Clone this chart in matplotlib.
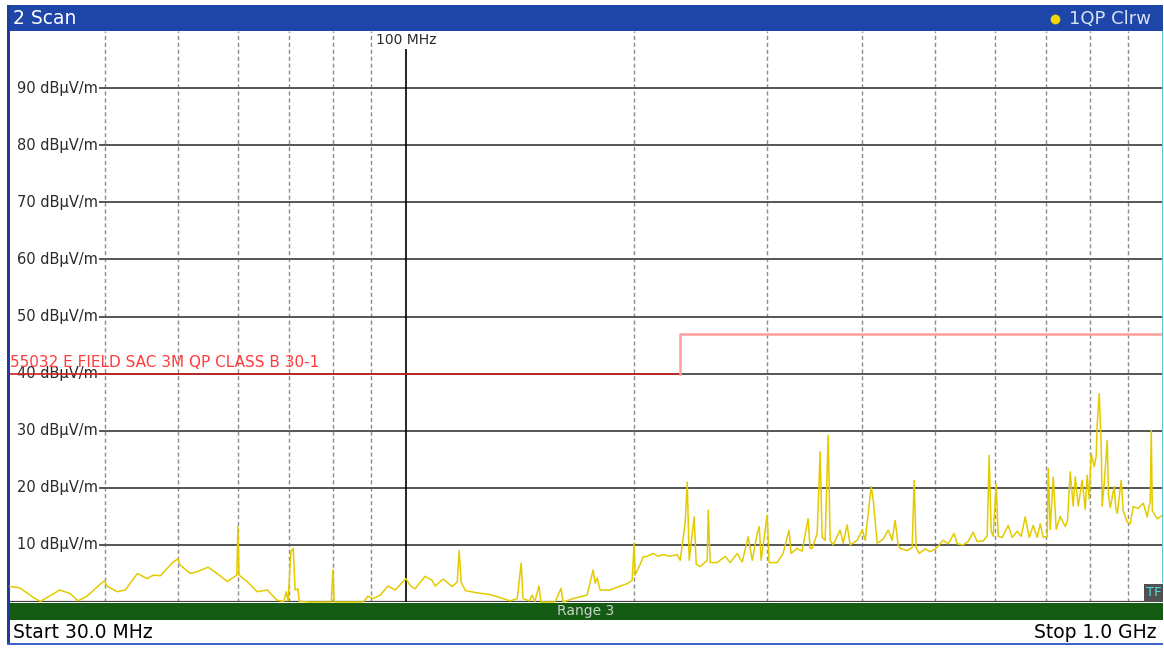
import numpy as np
import matplotlib.pyplot as plt
from matplotlib.patches import Rectangle
import matplotlib.transforms as mtransforms

# trace 1QP Clrw, frequency in MHz, level in dBuV/m
freq = [30.0, 30.9, 32.2, 32.9, 33.6, 34.9, 36.0, 36.9, 37.9, 39.45, 40.0, 40.3,
        41.55, 42.6, 44.2, 45.5, 46.4, 47.4, 49.1, 50.0, 50.3, 51.9, 53.0, 54.8,
        56.3, 58.1, 59.8, 60.0, 60.2, 61.7, 63.6, 65.6, 67.6, 69.0, 69.5, 69.9,
        70.5, 71.0, 71.4, 72.0, 72.3, 74.7, 78.2, 79.7, 80.1, 80.4, 83.1, 85.7,
        87.8, 89.1, 90.5, 92.5, 94.7, 96.8, 100.0, 101.3, 102.8, 106.0, 108.3,
        109.3, 112.0, 115.1, 116.9, 117.6, 118.3, 119.8, 124.2, 129.2, 134.4,
        137.3, 140.3, 142.0, 142.8, 145.5, 146.8, 148.0, 149.9, 150.8, 157.4,
        160.3, 161.3, 166.3, 173.5, 176.7, 177.8, 178.9, 180.5, 186.1, 191.9,
        196.0, 199.0, 200.2, 200.8, 203.3, 205.8, 208.3, 212.1, 215.4, 218.6,
        223.3, 228.2, 230.3, 233.8, 235.3, 236.7, 240.3, 241.8, 244.7, 250.0,
        250.8, 252.3, 257.7, 264.1, 268.1, 273.9, 278.1, 283.2, 286.7, 291.1,
        292.9, 294.6, 300.0, 301.8, 309.3, 314.9, 320.7, 322.7, 328.6, 333.7,
        339.8, 341.9, 344.0, 349.3, 352.5, 354.6, 357.9, 361.2, 363.4, 366.7,
        374.6, 378.1, 382.7, 386.2, 394.5, 400.6, 404.3, 411.7, 414.2, 419.3,
        427.0, 433.5, 438.8, 442.8, 446.9, 449.6, 459.3, 466.3, 469.2, 472.0,
        476.4, 485.1, 492.6, 501.6, 512.4, 520.2, 529.8, 534.7, 544.5, 552.9,
        561.4, 568.2, 578.7, 585.8, 589.4, 593.0, 596.6, 602.1, 605.8, 613.2,
        624.5, 632.1, 641.8, 649.7, 657.6, 665.7, 673.8, 682.1, 688.4, 694.7,
        703.2, 705.3, 709.6, 716.1, 722.7, 731.5, 742.7, 748.0, 754.1, 761.0,
        765.7, 772.7, 782.1, 789.3, 794.1, 799.0, 803.8, 811.2, 816.0, 818.7,
        823.7, 828.7, 831.2, 836.3, 844.0, 847.0, 851.7, 862.2, 866.0, 870.1,
        880.7, 886.0, 896.9, 905.2, 913.5, 927.5, 941.7, 953.2, 959.1, 962.0,
        964.9, 968.0, 982.4, 1000.0]
level = [2.7, 2.5, 0.8, 0.1, 0.8, 2.1, 1.5, 0.2, 1.0, 3.1, 3.7, 2.8,
         1.8, 2.1, 5.0, 4.1, 4.7, 4.6, 6.8, 7.6, 6.5, 5.0, 5.3, 6.1,
         5.0, 3.6, 4.7, 13.2, 4.7, 3.6, 1.8, 2.1, 0.3, 0.1, 1.8, 0.2,
         8.8, 9.4, 2.1, 2.3, 0.1, 0.0, 0.0, 0.0, 5.6, 0.0, 0.0, 0.0,
         0.0, 1.0, 0.6, 1.2, 2.8, 2.1, 4.1, 2.9, 2.3, 4.5, 3.8,
         2.8, 4.0, 2.7, 3.5, 9.0, 3.5, 2.0, 1.6, 1.3, 0.6,
         0.2, 0.6, 6.8, 0.6, 0.2, 1.2, 0.1, 2.8, 0.0, 0.0,
         2.4, 0.0, 0.6, 1.2, 5.6, 3.3, 4.2, 2.1, 2.1, 2.8,
         3.2, 3.8, 10.3, 4.7, 6.2, 7.9, 8.0, 8.5, 8.0, 8.3,
         8.0, 8.3, 7.3, 13.8, 21.0, 7.3, 14.9, 6.6, 6.2, 7.3,
         16.1, 6.9, 6.9, 8.0, 6.9, 8.5, 7.0, 11.4, 7.3, 12.0,
         13.2, 7.3, 15.2, 6.9, 6.9, 8.5, 12.6, 8.5, 9.4, 8.9,
         14.6, 9.4, 9.4, 12.0, 26.3, 11.4, 10.8, 29.2, 10.8, 10.0,
         12.6, 10.3, 13.5, 10.0, 10.8, 12.6, 10.8, 20.2, 17.9, 10.3,
         11.0, 12.6, 10.8, 14.3, 10.0, 9.4, 9.0, 9.5, 21.3, 9.5,
         8.5, 9.3, 8.8, 9.4, 10.8, 10.2, 12.0, 10.2, 10.0, 10.6,
         12.2, 10.6, 10.7, 11.5, 25.7, 12.4, 11.5, 20.6, 11.5, 11.3,
         13.4, 11.3, 12.4, 11.5, 14.9, 11.3, 13.4, 11.3, 13.7, 11.3,
         11.5, 23.4, 12.7, 21.9, 12.7, 15.0, 13.2, 14.3, 22.8, 16.8,
         21.9, 16.8, 21.3, 16.2, 22.2, 18.0, 26.0, 23.7, 25.5, 31.2,
         36.5, 27.3, 16.8, 20.8, 28.3, 18.9, 16.5, 20.2, 16.5, 15.5,
         21.3, 16.0, 14.0, 13.7, 16.7, 16.4, 17.3, 14.9, 17.0, 17.5,
         30.1, 16.0, 14.6, 15.2]

# limit line 55032 class B (QP, 3 m)
limit_freq = [30, 230, 230, 1000]
limit_level = [40, 40, 47, 47]

grid_levels = [10, 20, 30, 40, 50, 60, 70, 80, 90]
grid_freqs = [40, 50, 60, 70, 80, 90, 200, 300, 400, 500, 600, 700, 800, 900]

W, H = 1164, 648
fig = plt.figure(figsize=(W / 100, H / 100), dpi=100)

# frame drawn in pixel coordinates
bg = fig.add_axes([0, 0, 1, 1])
bg.set_xlim(0, W)
bg.set_ylim(H, 0)
bg.axis('off')
blue = '#1E46A8'
bg.add_patch(Rectangle((7, 5), 1156, 26, color=blue, lw=0))
bg.add_patch(Rectangle((7, 5), 3, 640, color='#1E3C9C', lw=0))
bg.add_patch(Rectangle((7, 643), 1156, 2, color='#3C64C8', lw=0))
bg.add_patch(Rectangle((10, 603), 1153, 17, color='#145C14', lw=0))
bg.text(13, 18.5, '2 Scan', color='white', fontsize=13.5, va='center')
bg.plot([1055], [19], 'o', ms=6, color='#F0D800')
bg.text(1151, 18.5, '1QP Clrw', color='#D8E2F4', fontsize=13, va='center', ha='right')
bg.text(586, 611.5, 'Range 3', color='#C8D4C8', fontsize=10, va='center', ha='center')
bg.text(13, 632, 'Start 30.0 MHz', color='black', fontsize=13.5, va='center')
bg.text(1157, 632, 'Stop 1.0 GHz', color='black', fontsize=13.5, va='center', ha='right')

ax = fig.add_axes([10 / W, 46 / H, 1153 / W, 571 / H])
ax.patch.set_visible(False)
ax.set_xscale('log')
ax.set_xlim(30, 1000)
ax.set_ylim(0, 100)
ax.set_xticks([])
ax.set_yticks([])
ax.minorticks_off()
for s in ax.spines.values():
    s.set_visible(False)

for f in grid_freqs:
    ax.axvline(f, color='#8C8C8C', lw=1, ls=(0, (3, 2)), zorder=1)
ax.axvline(100, ymax=0.972, color='black', lw=1.2, zorder=2)
for lv in grid_levels:
    ax.axhline(lv, xmin=0.078, color='#555555', lw=1.4, zorder=1)
ax.axhline(0, color='#404040', lw=1.6, zorder=1)

trans = mtransforms.blended_transform_factory(ax.transAxes, ax.transData)
for lv in grid_levels:
    ax.text(0.006, lv, f'{lv} dBµV/m', transform=trans, fontsize=10.5,
            color='#2A2A2A', va='center', zorder=2)
ax.text(100, 98.4, '100 MHz', ha='center', va='center', fontsize=10, color='#2A2A2A',
        bbox=dict(facecolor='white', edgecolor='none', pad=1.5), zorder=2)

ax.plot(limit_freq[:2], limit_level[:2], color='#C82020', lw=1.2, zorder=3)
ax.plot(limit_freq[1:], limit_level[1:], color='#FF9C9C', lw=1.8, zorder=3)
ax.text(0.0, 42.0, '55032 E FIELD SAC 3M QP CLASS B 30-1', transform=trans,
        fontsize=11, color='#FF3B3B', va='center', zorder=4)

ax.plot(freq, level, color='#E3CB00', lw=1.1, zorder=3, clip_on=False)

# right edge and TF badge
bg2 = fig.add_axes([0, 0, 1, 1])
bg2.set_xlim(0, W)
bg2.set_ylim(H, 0)
bg2.axis('off')
bg2.add_patch(Rectangle((1161.5, 31), 1.5, 552, color='#5FC8C8', lw=0))
bg2.add_patch(Rectangle((1144, 584), 19, 18, color='#505050', lw=0))
bg2.text(1153.5, 593, 'TF', color='#4FE0E0', fontsize=9.5, ha='center', va='center')

fig.savefig('out.png', dpi=100)
